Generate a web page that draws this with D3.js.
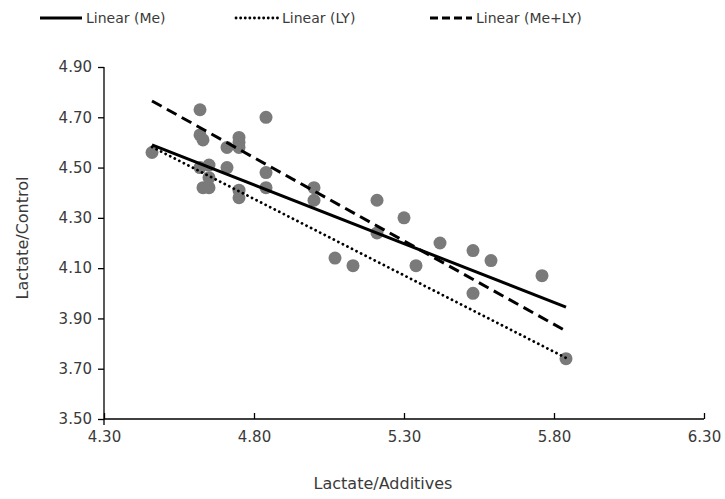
<!DOCTYPE html>
<html>
<head>
<meta charset="utf-8">
<script src="https://cdn.jsdelivr.net/npm/d3@7"></script>
<style>
  html, body { margin: 0; padding: 0; background: #fff; }
  svg { display: block; font-family: "DejaVu Sans", Verdana, sans-serif; }
</style>
</head>
<body>
<svg id="chart" width="725" height="499"></svg>
<script>
// Observations: lactate with additives (x) vs lactate in control (y)
const additives = [4.46, 4.62, 4.62, 4.63, 4.84, 4.71, 4.75, 4.75, 4.75, 4.65, 4.71,
                   4.62, 4.63, 4.65, 4.75, 4.75, 4.84, 4.84, 4.65, 5.00, 5.00, 5.21,
                   5.30, 5.21, 5.07, 5.13, 5.34, 5.42, 5.53, 5.59, 5.76, 5.53, 5.84];
const control   = [4.56, 4.73, 4.63, 4.61, 4.70, 4.58, 4.62, 4.60, 4.58, 4.51, 4.50,
                   4.50, 4.42, 4.42, 4.41, 4.38, 4.48, 4.42, 4.46, 4.42, 4.37, 4.37,
                   4.30, 4.24, 4.14, 4.11, 4.11, 4.20, 4.17, 4.13, 4.07, 4.00, 3.74];

// Linear trendlines, evaluated at the ends of the data range
const trendX     = [4.46, 5.84];
const trendMe    = [4.59, 3.945];
const trendLY    = [4.582, 3.743];
const trendMeLY  = [4.765, 3.85];

const xTicks = [4.30, 4.80, 5.30, 5.80, 6.30];
const yTicks = [3.50, 3.70, 3.90, 4.10, 4.30, 4.50, 4.70, 4.90];

const legendNames = ["Linear (Me)", "Linear (LY)", "Linear (Me+LY)"];

const svg = d3.select("#chart");
const plotL = 104, plotR = 704, plotT = 67, plotB = 419;

const x = d3.scaleLinear().domain([4.30, 6.30]).range([plotL, plotR]);
const y = d3.scaleLinear().domain([3.50, 4.90]).range([plotB, plotT]);

const textColor = "#3a3a3a";
const fmt = d3.format(".2f");

// Y axis
const yAxis = svg.append("g")
  .attr("transform", `translate(${plotL},0)`)
  .call(d3.axisLeft(y).tickValues(yTicks).tickFormat(fmt).tickSize(6).tickPadding(6));
yAxis.select(".domain").attr("d", `M0,${plotT}V${plotB + 6}`);

// X axis (ticks point up into the plot)
const xAxis = svg.append("g")
  .attr("transform", `translate(0,${plotB})`)
  .call(d3.axisBottom(x).tickValues(xTicks).tickFormat(fmt).tickSize(-6).tickPadding(12));
xAxis.select(".domain").attr("d", `M${plotL},0H${plotR}`);

svg.selectAll(".tick line, .domain").attr("stroke", "#000").attr("stroke-width", 1.3);
svg.selectAll(".tick text").attr("fill", textColor).style("font-size", "15px")
  .style("font-family", "'DejaVu Sans', Verdana, sans-serif");

// Axis titles
svg.append("text")
  .attr("x", 383).attr("y", 489)
  .attr("text-anchor", "middle")
  .attr("fill", textColor)
  .style("font-size", "16px")
  .text("Lactate/Additives");

svg.append("text")
  .attr("transform", "translate(28,238) rotate(-90)")
  .attr("text-anchor", "middle")
  .attr("fill", textColor)
  .style("font-size", "16px")
  .text("Lactate/Control");

// Points
const pts = additives.map((a, i) => ({ a, c: control[i] }));
svg.append("g").selectAll("circle")
  .data(pts).join("circle")
  .attr("cx", d => x(d.a))
  .attr("cy", d => y(d.c))
  .attr("r", 6.5)
  .attr("fill", "#7a7a7a");

// Trendlines
const lineStyles = [
  { vals: trendMe,   dash: null,    width: 3,   cap: "butt" },
  { vals: trendLY,   dash: "0.1,5", width: 2.8, cap: "round" },
  { vals: trendMeLY, dash: "11,6",  width: 3,   cap: "butt" }
];
const lineGen = d3.line().x(d => x(d[0])).y(d => y(d[1]));
lineStyles.forEach(s => {
  svg.append("path")
    .datum(trendX.map((tx, i) => [tx, s.vals[i]]))
    .attr("d", lineGen)
    .attr("fill", "none")
    .attr("stroke", "#000")
    .attr("stroke-width", s.width)
    .attr("stroke-linecap", s.cap)
    .attr("stroke-dasharray", s.dash);
});

// Legend
const legendX = [40, 236, 430];
const legend = svg.append("g");
lineStyles.forEach((s, i) => {
  const g = legend.append("g").attr("transform", `translate(${legendX[i]},18)`);
  g.append("line")
    .attr("x1", 0).attr("x2", 42).attr("y1", 0).attr("y2", 0)
    .attr("stroke", "#000")
    .attr("stroke-width", s.width)
    .attr("stroke-linecap", s.cap)
    .attr("stroke-dasharray", s.dash === "0.1,5" ? "0.1,4.5" : (s.dash ? "8,4" : null));
  g.append("text")
    .attr("x", 46).attr("y", 5)
    .attr("fill", textColor)
    .style("font-size", "14px")
    .text(legendNames[i]);
});
</script>
</body>
</html>
